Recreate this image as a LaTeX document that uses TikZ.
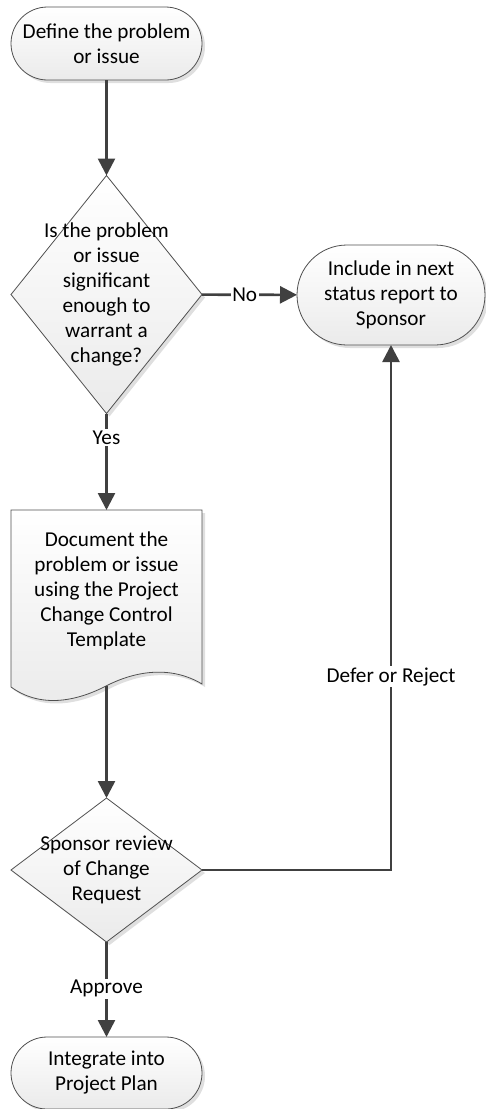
\documentclass[tikz,border=0pt]{standalone}
\usepackage{fontspec}
\setmainfont{Carlito}
\usetikzlibrary{shapes.geometric,shapes.misc,arrows.meta,shadows}
\definecolor{edge}{HTML}{404040}
\definecolor{rim}{HTML}{505050}
\begin{document}
\begin{tikzpicture}[x=1pt,y=-1pt,
  font=\fontsize{21.2}{25}\selectfont,
  shapefill/.style={top color=white,bottom color=gray!16,draw=rim,line width=0.8pt,
    drop shadow={shadow xshift=3pt,shadow yshift=-3pt,fill=gray!35,opacity=0.7}},
  terminal/.style={shapefill,rounded rectangle,inner sep=0pt,outer sep=0pt,align=center},
  decision/.style={shapefill,diamond,inner sep=0pt,outer sep=0pt},
  dtext/.style={align=center,inner sep=0pt},
  flow/.style={draw=edge,line width=2.6pt,-{Triangle[length=17pt,width=17pt]}},
  tag/.style={fill=white,inner sep=1.5pt}]
\useasboundingbox (0,0) rectangle (486,1109);

% terminators and decisions
\node[terminal,minimum width=191,minimum height=73] (start) at (106.5,43.5)
  {Define the problem\\or issue};
\node[decision,minimum width=191,minimum height=238,
  label={[dtext]center:{Is the problem\\or issue\\significant\\enough to\\warrant a\\change?}}]
  (sig) at (106.5,294.5) {};
\node[terminal,minimum width=188,minimum height=100] (status) at (391,295)
  {Include in next\\status report to\\Sponsor};

% document shape (wavy bottom edge)
\fill[gray!35,opacity=0.7,shift={(3,3)}] (11,510) -- (202,510) -- (202,684)
  .. controls (172,666) and (137,670) .. (106,686)
  .. controls (75,702) and (40,708) .. (11,687) -- cycle;
\shade[top color=white,bottom color=gray!16,draw=rim,line width=0.8pt]
  (11,510) -- (202,510) -- (202,684)
  .. controls (172,666) and (137,670) .. (106,686)
  .. controls (75,702) and (40,708) .. (11,687) -- cycle;
\node[align=center,inner sep=0pt,minimum width=191,minimum height=0pt] (doc) at (106.5,591)
  {Document the\\problem or issue\\using the Project\\Change Control\\Template};
\coordinate (doctop) at (106.5,510);
\coordinate (docbot) at (106.5,686);

\node[decision,minimum width=191,minimum height=144,
  label={[dtext]center:{Sponsor review\\of Change\\Request}}]
  (review) at (106.5,870) {};
\node[terminal,minimum width=191,minimum height=72] (plan) at (106.5,1073)
  {Integrate into\\Project Plan};

% connectors
\draw[flow] (start) -- (sig);
\draw[flow] (sig) -- node[tag,pos=0.45] {No} (status);
\draw[flow] (sig) -- node[tag,pos=0.25] {Yes} (doctop);
\draw[flow] (docbot) -- (review);
\draw[flow] (review.east) -| node[tag,pos=0.684] {Defer or Reject} (status.south);
\draw[flow] (review) -- node[tag,pos=0.49] {Approve} (plan);
\end{tikzpicture}
\end{document}
